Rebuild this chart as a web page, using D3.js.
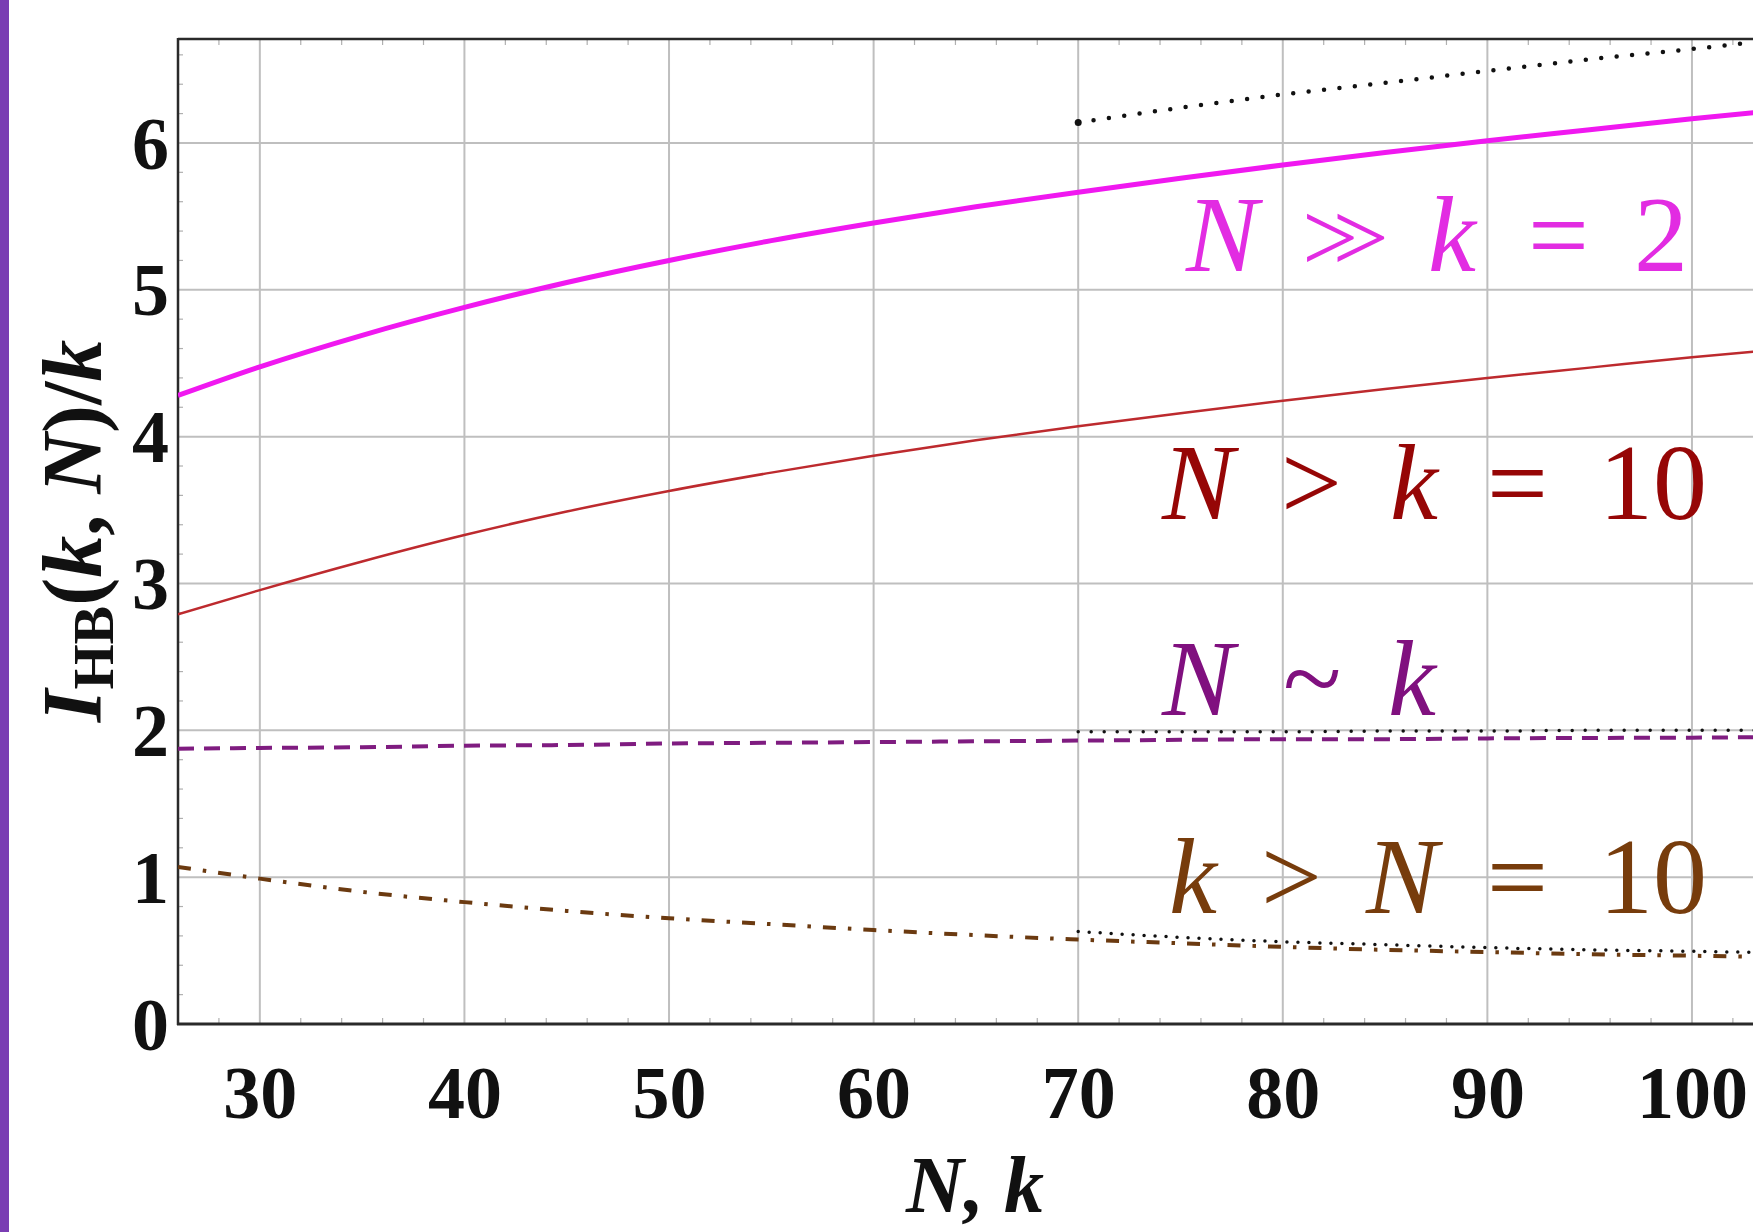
<!DOCTYPE html>
<html>
<head>
<meta charset="utf-8">
<script src="https://cdn.jsdelivr.net/npm/d3@7"></script>
<style>
  html, body { margin: 0; padding: 0; background: #ffffff; }
  svg { display: block; }
</style>
</head>
<body>
<svg id="chart" width="1753" height="1232"></svg>
<script>
// ---------------- data ----------------
const xTicks = [30, 40, 50, 60, 70, 80, 90, 100];
const yTicks = [0, 1, 2, 3, 4, 5, 6];

const nValues = [26, 30, 35, 40, 45, 50, 55, 60, 65, 70, 75, 80, 85, 90, 95, 100, 104];
const seriesNggK2   = [4.28, 4.475, 4.69, 4.88, 5.05, 5.20, 5.335, 5.455, 5.565, 5.665, 5.76, 5.85, 5.935, 6.015, 6.09, 6.165, 6.22];
const seriesNgtK10  = [2.79, 2.955, 3.15, 3.33, 3.49, 3.63, 3.755, 3.87, 3.975, 4.07, 4.16, 4.245, 4.325, 4.40, 4.47, 4.54, 4.59];
const seriesNsimK   = [1.875, 1.88, 1.885, 1.895, 1.90, 1.91, 1.915, 1.92, 1.925, 1.93, 1.935, 1.94, 1.94, 1.945, 1.948, 1.95, 1.955];
const seriesKgtN10  = [1.07, 0.99, 0.90, 0.83, 0.77, 0.72, 0.68, 0.64, 0.605, 0.575, 0.55, 0.525, 0.505, 0.49, 0.475, 0.465, 0.455];

const asymN = [70, 75, 80, 85, 90, 95, 100, 104];
const asymTop   = [6.14, 6.24, 6.33, 6.41, 6.49, 6.57, 6.64, 6.70];
const asymMid   = [1.99, 1.99, 1.99, 1.995, 1.995, 2.0, 2.0, 2.0];
const asymLow   = [0.63, 0.59, 0.56, 0.54, 0.52, 0.505, 0.495, 0.485];

const labelNggK2  = ["N", ">>", "k", "=", "2"];   // N ≫ k = 2
const labelNgtK10 = ["N", ">", "k", "=", "10"];
const labelNsimK  = ["N", "~", "k"];
const labelKgtN10 = ["k", ">", "N", "=", "10"];

// ---------------- layout ----------------
const svg = d3.select("#chart");
const W = 1753, H = 1232;
const plotLeft = 178, plotTop = 39, plotBottom = 1024;

const x = d3.scaleLinear().domain([26, 104]).range([plotLeft, plotLeft + 78 * 20.459]);
const y = d3.scaleLinear().domain([0, 6.708]).range([plotBottom, plotTop]);

svg.append("rect").attr("width", W).attr("height", H).attr("fill", "#ffffff");

// purple strip at the left edge
svg.append("rect").attr("x", 0).attr("y", 0).attr("width", 9).attr("height", H).attr("fill", "#7a3db3");

const defs = svg.append("defs");
defs.append("clipPath").attr("id", "plotclip")
  .append("rect").attr("x", plotLeft).attr("y", plotTop).attr("width", W - plotLeft).attr("height", plotBottom - plotTop);

// grid
const grid = svg.append("g");
grid.selectAll("line.vg").data(xTicks).join("line")
  .attr("x1", d => x(d)).attr("x2", d => x(d))
  .attr("y1", plotTop).attr("y2", plotBottom)
  .attr("stroke", "#bfbfbf").attr("stroke-width", 2);
grid.selectAll("line.hg").data(yTicks.filter(d => d > 0)).join("line")
  .attr("x1", plotLeft).attr("x2", W)
  .attr("y1", d => y(d)).attr("y2", d => y(d))
  .attr("stroke", "#bfbfbf").attr("stroke-width", 2);

// minor ticks on frame
const minorX = d3.range(28, 104, 2).filter(v => v % 10 !== 0);
const minorY = d3.range(0.2, 6.7, 0.2).filter(v => Math.abs(v - Math.round(v)) > 0.01);
const ticksG = svg.append("g").attr("stroke", "#b0b0b0").attr("stroke-width", 1.2);
ticksG.selectAll("line.tb").data(minorX).join("line")
  .attr("x1", d => x(d)).attr("x2", d => x(d)).attr("y1", plotBottom).attr("y2", plotBottom - 6);
ticksG.selectAll("line.tt").data(minorX).join("line")
  .attr("x1", d => x(d)).attr("x2", d => x(d)).attr("y1", plotTop).attr("y2", plotTop + 6);
ticksG.selectAll("line.tl").data(minorY).join("line")
  .attr("x1", plotLeft).attr("x2", plotLeft + 5).attr("y1", d => y(d)).attr("y2", d => y(d));

// axes with d3 axis generators (labels styled afterwards)
const xAxis = svg.append("g").attr("transform", `translate(0,${plotBottom})`)
  .call(d3.axisBottom(x).tickValues(xTicks).tickSize(0).tickPadding(94).tickFormat(d3.format("d")));
xAxis.select(".domain").remove();
xAxis.selectAll("text")
  .attr("font-family", "'Liberation Serif', 'DejaVu Serif', serif")
  .attr("font-weight", "bold").attr("font-size", 74).attr("fill", "#111")
  .attr("dy", 0);

const yAxis = svg.append("g").attr("transform", `translate(${plotLeft},0)`)
  .call(d3.axisLeft(y).tickValues(yTicks).tickSize(0).tickPadding(9).tickFormat(d3.format("d")));
yAxis.select(".domain").remove();
yAxis.selectAll("text")
  .attr("font-family", "'Liberation Serif', 'DejaVu Serif', serif")
  .attr("font-weight", "bold").attr("font-size", 74).attr("fill", "#111")
  .attr("dy", "0.34em");

// frame lines
svg.append("line").attr("x1", plotLeft).attr("x2", W).attr("y1", plotTop).attr("y2", plotTop)
  .attr("stroke", "#2a2a2a").attr("stroke-width", 2.5);
svg.append("line").attr("x1", plotLeft).attr("x2", plotLeft).attr("y1", plotTop - 1).attr("y2", plotBottom + 1)
  .attr("stroke", "#2a2a2a").attr("stroke-width", 2.5);
svg.append("line").attr("x1", plotLeft - 1).attr("x2", W).attr("y1", plotBottom).attr("y2", plotBottom)
  .attr("stroke", "#2a2a2a").attr("stroke-width", 3);

// curves
const plot = svg.append("g").attr("clip-path", "url(#plotclip)");
const line = d3.line().x(d => x(d[0])).y(d => y(d[1])).curve(d3.curveMonotoneX);
const zip = (a, b) => a.map((v, i) => [v, b[i]]);

plot.append("path").datum(zip(nValues, seriesKgtN10)).attr("d", line)
  .attr("fill", "none").attr("stroke", "#6b3a10").attr("stroke-width", 4)
  .attr("stroke-dasharray", "13,12,3.5,12");
plot.append("path").datum(zip(asymN, asymLow)).attr("d", line)
  .attr("fill", "none").attr("stroke", "#111").attr("stroke-width", 3.5)
  .attr("stroke-linecap", "round").attr("stroke-dasharray", "0,11");

plot.append("path").datum(zip(nValues, seriesNsimK)).attr("d", line)
  .attr("fill", "none").attr("stroke", "#7f1c80").attr("stroke-width", 4)
  .attr("stroke-dasharray", "16,10");
plot.append("path").datum(zip(asymN, asymMid)).attr("d", line)
  .attr("fill", "none").attr("stroke", "#111").attr("stroke-width", 3.5)
  .attr("stroke-linecap", "round").attr("stroke-dasharray", "0,13");

plot.append("path").datum(zip(nValues, seriesNgtK10)).attr("d", line)
  .attr("fill", "none").attr("stroke", "#bd2a2e").attr("stroke-width", 2.5);

plot.append("path").datum(zip(nValues, seriesNggK2)).attr("d", line)
  .attr("fill", "none").attr("stroke", "#f018f0").attr("stroke-width", 5);

plot.append("path").datum(zip(asymN, asymTop)).attr("d", line)
  .attr("fill", "none").attr("stroke", "#111").attr("stroke-width", 4.5)
  .attr("stroke-linecap", "round").attr("stroke-dasharray", "0,15.5");
plot.append("circle").attr("cx", x(asymN[0])).attr("cy", y(asymTop[0])).attr("r", 3.5).attr("fill", "#111");

// region labels
const serif = "'Liberation Serif', 'DejaVu Serif', serif";
function mathLabel(parts, xs, baseline, color) {
  const t = svg.append("text")
    .attr("font-family", serif).attr("font-size", 108).attr("fill", color);
  parts.forEach((p, i) => {
    const italic = (p === "N" || p === "k");
    const ts = t.append("tspan").attr("x", xs[i]).attr("y", baseline)
      .attr("font-style", italic ? "italic" : "normal")
      .text(p);
    if (p === ">>") ts.attr("letter-spacing", -26).attr("font-size", 100);
  });
}
mathLabel(labelNggK2, [1186, 1302, 1428, 1528, 1634], 271, "#e22ce2");
mathLabel(labelNgtK10, [1162, 1281, 1390, 1487, 1599], 519, "#960606");
mathLabel(labelNsimK, [1162, 1283, 1388], 715, "#80107f");
mathLabel(labelKgtN10, [1169, 1261, 1366, 1487, 1599], 913, "#773c0c");

// axis titles
const yt = svg.append("text")
  .attr("transform", "translate(101,531) rotate(-90)")
  .attr("text-anchor", "middle")
  .attr("font-family", serif).attr("font-weight", "bold").attr("font-size", 84).attr("fill", "#111");
yt.append("tspan").attr("font-style", "italic").text("I");
yt.append("tspan").attr("font-size", 58).attr("dy", 12).text("HB");
yt.append("tspan").attr("dy", -12).text("(");
yt.append("tspan").attr("font-style", "italic").text("k");
yt.append("tspan").text(", ");
yt.append("tspan").attr("font-style", "italic").text("N");
yt.append("tspan").text(")/");
yt.append("tspan").attr("font-style", "italic").text("k");

svg.append("text")
  .attr("x", 975).attr("y", 1212).attr("text-anchor", "middle")
  .attr("font-family", serif).attr("font-weight", "bold").attr("font-style", "italic")
  .attr("font-size", 80).attr("fill", "#111")
  .text("N, k");
</script>
</body>
</html>
